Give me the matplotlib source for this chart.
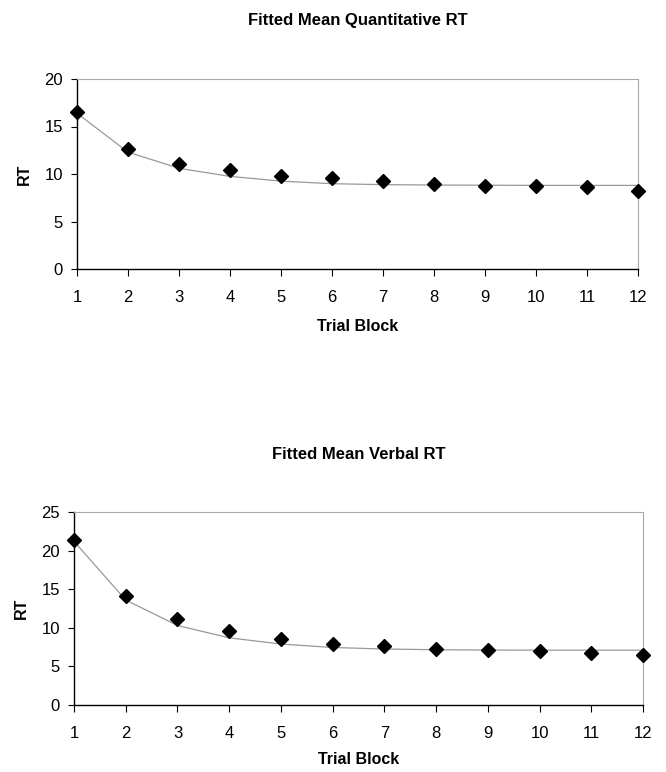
import matplotlib
matplotlib.use('Agg')
import matplotlib.pyplot as plt

plt.rcParams['font.family'] = ['Liberation Sans', 'DejaVu Sans']

blocks = list(range(1, 13))

quant_obs = [16.5, 12.6, 11.1, 10.4, 9.8, 9.55, 9.3, 9.0, 8.75, 8.75, 8.6, 8.25]
quant_fit = [16.4, 12.3, 10.6, 9.75, 9.25, 8.98, 8.88, 8.84, 8.82, 8.8, 8.8, 8.8]

# verbal
verbal_obs = [21.35, 14.1, 11.15, 9.55, 8.5, 7.9, 7.6, 7.25, 7.07, 6.94, 6.7, 6.5]
verbal_fit = [21.2, 13.6, 10.3, 8.7, 7.9, 7.45, 7.25, 7.16, 7.12, 7.1, 7.1, 7.1]

W, H = 666, 772
fig = plt.figure(figsize=(W / 100, H / 100), dpi=100)


def panel(box, title, obs, fit, ymax, tpad, xlpad):
    l, t, r, b = box
    ax = fig.add_axes([l / W, 1 - b / H, (r - l) / W, (b - t) / H])
    ax.plot(blocks, fit, color='#999999', lw=0.9, zorder=2)
    ax.plot(blocks, obs, linestyle='none', marker='D', ms=7,
            color='black', zorder=3, clip_on=False)
    ax.set_xlim(1, 12)
    ax.set_ylim(0, ymax)
    ax.set_xticks(blocks)
    ax.set_yticks(range(0, ymax + 1, 5))
    for s in ['left', 'bottom']:
        ax.spines[s].set_color('black')
        ax.spines[s].set_linewidth(1.0)
    for s in ['top', 'right']:
        ax.spines[s].set_color('#a8a8a8')
        ax.spines[s].set_linewidth(0.8)
        ax.spines[s].set_linestyle((0, (2, 1)))
    ax.tick_params(axis='x', direction='out', length=5, width=0.8,
                   pad=10, labelsize=12)
    ax.tick_params(axis='y', direction='out', length=4, width=0.8,
                   pad=6, labelsize=12)
    ax.set_title(title, fontsize=12, fontweight='bold', pad=tpad)
    ax.set_xlabel('Trial Block', fontsize=11.5, fontweight='bold', labelpad=xlpad)
    ax.set_ylabel('RT', fontsize=11.5, fontweight='bold', labelpad=9)
    return ax


panel((77, 79, 638, 269), 'Fitted Mean Quantitative RT', quant_obs, quant_fit, 20, 39, 10)
panel((74, 512, 643, 705), 'Fitted Mean Verbal RT', verbal_obs, verbal_fit, 25, 38, 8)

fig.savefig('out.png', dpi=100)
